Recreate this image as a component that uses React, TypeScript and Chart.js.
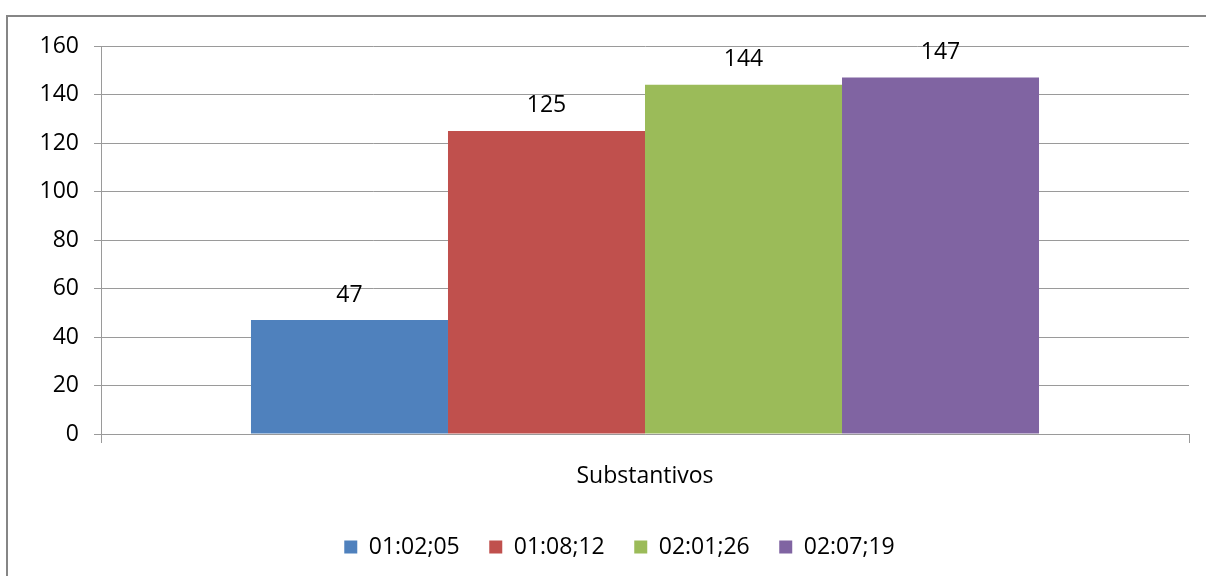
import { useEffect, useRef } from "react";
import { Chart, registerables } from "chart.js";

Chart.register(...registerables);

const categories = ["Substantivos"];
const seriesNames = ["01:02;05", "01:08;12", "02:01;26", "02:07;19"];
const seriesValues = [[47], [125], [144], [147]];
const seriesColors = ["#4F81BD", "#C0504D", "#9BBB59", "#8064A2"];
const yMin = 0;
const yMax = 160;
const yStep = 20;

const FONT_FAMILY = "'Open Sans', 'Liberation Sans', sans-serif";
const FONT_SIZE = 23;
const GRID = "#9a9a9a";

const framePlugin = {
  id: "frame",
  beforeDraw(chart: any) {
    const ctx = chart.ctx;
    ctx.save();
    ctx.fillStyle = "#ffffff";
    ctx.fillRect(0, 0, chart.width, chart.height);
    ctx.fillStyle = "#868686";
    ctx.fillRect(6, 15, 2, chart.height);
    ctx.fillRect(6, 15, chart.width, 2);
    ctx.restore();
  },
};

const legendShiftPlugin = {
  id: "legendShift",
  afterLayout(chart: any) {
    const lg = chart.legend;
    if (lg) {
      lg.left += 10;
      lg.right += 10;
    }
  },
};

const valueLabelPlugin = {
  id: "valueLabels",
  afterDatasetsDraw(chart: any) {
    const ctx = chart.ctx;
    ctx.save();
    ctx.font = `${FONT_SIZE}px ${FONT_FAMILY}`;
    ctx.fillStyle = "#000000";
    ctx.textAlign = "center";
    ctx.textBaseline = "middle";
    chart.data.datasets.forEach((ds: any, i: number) => {
      const meta = chart.getDatasetMeta(i);
      meta.data.forEach((el: any, j: number) => {
        ctx.fillText(String(ds.data[j]), el.x, el.y - 25);
      });
    });
    ctx.restore();
  },
};

export default function App() {
  const ref = useRef<HTMLCanvasElement | null>(null);

  useEffect(() => {
    if (!ref.current) return;
    const chart = new Chart(ref.current, {
      type: "bar",
      data: {
        labels: categories,
        datasets: seriesNames.map((name, i) => ({
          label: name,
          data: seriesValues[i],
          backgroundColor: seriesColors[i],
          borderWidth: 0,
          barPercentage: 1,
          categoryPercentage: 0.7243,
        })),
      },
      options: {
        responsive: false,
        animation: false,
        devicePixelRatio: 1,
        layout: { padding: { left: 30, right: 17, top: 46, bottom: 7.5 } },
        plugins: {
          tooltip: { enabled: false },
          legend: {
            position: "bottom",
            labels: {
              boxWidth: 13,
              boxHeight: 13,
              padding: 29.5,
              color: "#000000",
              font: { family: FONT_FAMILY, size: FONT_SIZE },
            },
          },
        },
        scales: {
          x: {
            offset: true,
            grid: {
              display: true,
              drawOnChartArea: false,
              drawTicks: true,
              tickLength: 9,
              color: GRID,
              offset: true,
            },
            border: { display: true, color: GRID },
            ticks: {
              padding: 20,
              color: "#000000",
              font: { family: FONT_FAMILY, size: FONT_SIZE },
            },
            afterFit(scale: any) {
              scale.height = 72;
            },
          },
          y: {
            min: yMin,
            max: yMax,
            grid: { color: GRID, tickLength: 7 },
            border: { display: true, color: GRID },
            ticks: {
              stepSize: yStep,
              padding: 15,
              color: "#000000",
              font: { family: FONT_FAMILY, size: FONT_SIZE },
            },
            afterFit(scale: any) {
              scale.width = 71;
            },
          },
        },
      },
      plugins: [framePlugin, legendShiftPlugin, valueLabelPlugin],
    });
    return () => chart.destroy();
  }, []);

  return (
    <div style={{ position: "fixed", left: 0, top: 0, width: 1206, height: 576, background: "#fff" }}>
      <canvas ref={ref} width={1206} height={576} style={{ display: "block", width: 1206, height: 576 }} />
    </div>
  );
}
